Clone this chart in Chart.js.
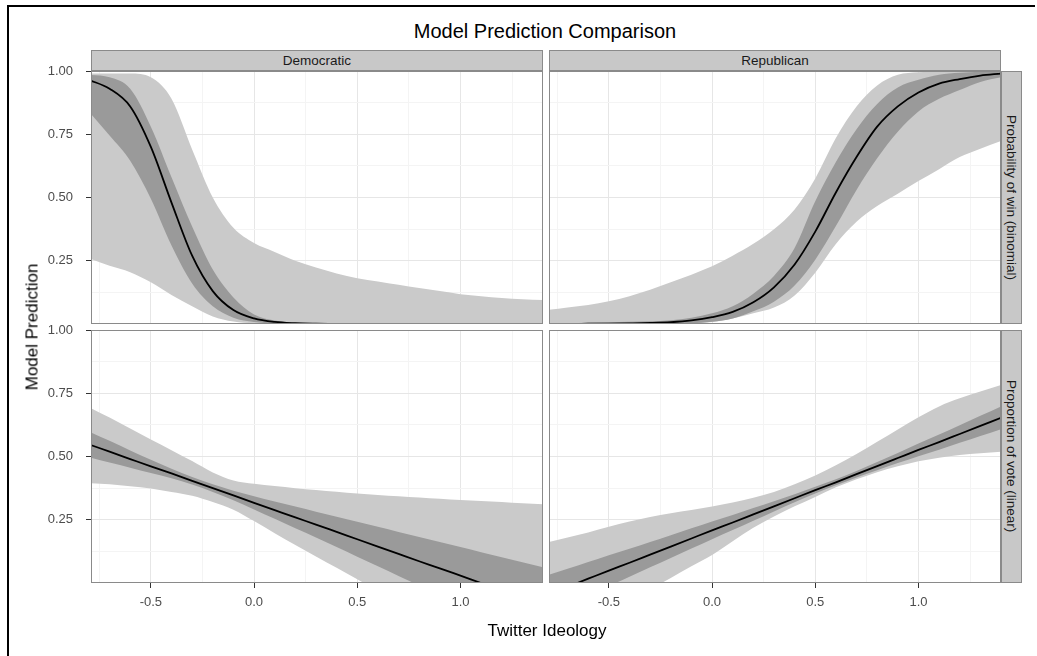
<!DOCTYPE html>
<html>
<head>
<meta charset="utf-8">
<script src="https://cdn.jsdelivr.net/npm/chart.js@4.4.0/dist/chart.umd.min.js"></script>
<style>
  body { margin: 0; background: #fff; }
  #wrap { position: relative; width: 1037px; height: 656px; overflow: hidden;
          font-family: "Liberation Sans", Arial, sans-serif; }
  .frame { position: absolute; left: 7px; top: 5px; width: 1026px; height: 700px;
           border-top: 2px solid #000; border-left: 2px solid #000; }
  canvas { position: absolute; }
  .strip { position: absolute; box-sizing: border-box; background: #c8c8c8;
           border: 1px solid #8a8a8a; color: #1a1a1a; font-size: 13.5px;
           display: flex; align-items: center; justify-content: center; }
  .strip.side { writing-mode: vertical-rl; }
  .title { position: absolute; left: 295px; width: 500px; top: 21px; text-align: center;
           font-size: 20px; line-height: 20px; color: #000; }
  .xlab { position: absolute; left: 397px; width: 300px; top: 622px; text-align: center;
          font-size: 17px; line-height: 17px; color: #000; }
  .ylab { position: absolute; left: 31.5px; top: 327px; font-size: 17px; line-height: 17px;
          color: #000; white-space: nowrap; transform: translate(-50%, -50%) rotate(-90deg); }
</style>
</head>
<body>
<div id="wrap">
  <div class="frame"></div>
  <div class="title">Model Prediction Comparison</div>

  <canvas id="tl" width="543" height="263" style="left:0;top:61px"></canvas>
  <canvas id="tr" width="452" height="263" style="left:549px;top:61px"></canvas>
  <canvas id="bl" width="543" height="303" style="left:0;top:320px"></canvas>
  <canvas id="br" width="452" height="303" style="left:549px;top:320px"></canvas>

  <div class="strip" style="left:91px;top:50px;width:452px;height:21px">Democratic</div>
  <div class="strip" style="left:549px;top:50px;width:452px;height:21px">Republican</div>
  <div class="strip side" style="left:1001px;top:71px;width:21px;height:253px">Probability of win (binomial)</div>
  <div class="strip side" style="left:1001px;top:330px;width:21px;height:253px">Proportion of vote (linear)</div>

  <div class="ylab">Model Prediction</div>
  <div class="xlab">Twitter Ideology</div>
</div>

<script>
// eje x compartido (ideología en Twitter)
const xVals = [-0.8, -0.7, -0.6, -0.5, -0.4, -0.3, -0.2, -0.1, 0.0, 0.1, 0.2, 0.3,
               0.4, 0.5, 0.6, 0.7, 0.8, 0.9, 1.0, 1.1, 1.2, 1.3, 1.4];
const xTicks = [-0.75, -0.5, -0.25, 0, 0.25, 0.5, 0.75, 1, 1.25];
const xMajor = [-0.5, 0, 0.5, 1];
const yTicks = [0.125, 0.25, 0.375, 0.5, 0.625, 0.75, 0.875, 1];
const yMajor = [0.25, 0.5, 0.75, 1];

// Demócratas, probabilidad de ganar (binomial)
const demWinFit    = [0.965, 0.93, 0.86, 0.70, 0.48, 0.27, 0.13, 0.055, 0.022, 0.008, 0.003, 0.001, 0, 0, 0, 0, 0, 0, 0, 0, 0, 0, 0];
const demWinDarkHi = [0.985, 0.975, 0.93, 0.78, 0.58, 0.385, 0.215, 0.105, 0.038, 0.014, 0.005, 0.002, 0.001, 0, 0, 0, 0, 0, 0, 0, 0, 0, 0];
const demWinDarkLo = [0.84, 0.745, 0.645, 0.495, 0.31, 0.16, 0.07, 0.025, 0.008, 0.002, 0.001, 0, 0, 0, 0, 0, 0, 0, 0, 0, 0, 0, 0];
const demWinLightHi = [0.99, 0.99, 0.99, 0.975, 0.89, 0.69, 0.50, 0.38, 0.32, 0.285, 0.25, 0.223, 0.20, 0.181, 0.168, 0.155, 0.142, 0.13, 0.118, 0.11, 0.103, 0.098, 0.095];
const demWinLightLo = [0.26, 0.23, 0.205, 0.165, 0.115, 0.07, 0.03, 0.01, 0.003, 0.001, 0, 0, 0, 0, 0, 0, 0, 0, 0, 0, 0, 0, 0];

// Republicanos, probabilidad de ganar (binomial)
const repWinFit    = [0.0003, 0.0005, 0.001, 0.0015, 0.0025, 0.004, 0.007, 0.014, 0.027, 0.048, 0.086, 0.145, 0.235, 0.365, 0.52, 0.66, 0.78, 0.86, 0.915, 0.95, 0.968, 0.982, 0.99];
const repWinDarkHi = [0.003, 0.004, 0.005, 0.007, 0.009, 0.011, 0.015, 0.025, 0.042, 0.07, 0.12, 0.19, 0.30, 0.485, 0.64, 0.77, 0.87, 0.935, 0.965, 0.985, 0.993, 0.997, 0.998];
const repWinDarkLo = [0, 0, 0, 0, 0, 0, 0.001, 0.003, 0.009, 0.022, 0.05, 0.088, 0.152, 0.254, 0.387, 0.53, 0.655, 0.76, 0.84, 0.89, 0.925, 0.957, 0.975];
const repWinLightHi = [0.055, 0.065, 0.075, 0.09, 0.11, 0.135, 0.165, 0.195, 0.228, 0.27, 0.317, 0.375, 0.453, 0.575, 0.735, 0.86, 0.943, 0.985, 0.995, 0.997, 0.998, 0.998, 0.998];
const repWinLightLo = [0, 0, 0, 0, 0, 0.001, 0.002, 0.004, 0.008, 0.022, 0.042, 0.065, 0.113, 0.203, 0.316, 0.404, 0.466, 0.515, 0.565, 0.612, 0.66, 0.693, 0.723];

// Demócratas, proporción de voto (lineal)
const demVoteFit    = [0.548, 0.519, 0.49, 0.461, 0.433, 0.404, 0.375, 0.346, 0.317, 0.288, 0.259, 0.231, 0.202, 0.173, 0.144, 0.115, 0.086, 0.058, 0.029, 0.0, -0.029, -0.058, -0.087];
const demVoteDarkHi = [0.599, 0.562, 0.524, 0.487, 0.452, 0.419, 0.39, 0.365, 0.343, 0.322, 0.302, 0.282, 0.262, 0.242, 0.222, 0.202, 0.182, 0.162, 0.142, 0.122, 0.102, 0.082, 0.062];
const demVoteDarkLo = [0.497, 0.476, 0.456, 0.435, 0.414, 0.389, 0.36, 0.327, 0.291, 0.254, 0.216, 0.18, 0.142, 0.104, 0.066, 0.028, -0.01, -0.046, -0.084, -0.122, -0.16, -0.198, -0.236];
const demVoteLightHi = [0.695, 0.654, 0.611, 0.567, 0.525, 0.482, 0.437, 0.405, 0.392, 0.383, 0.375, 0.368, 0.361, 0.354, 0.348, 0.343, 0.338, 0.333, 0.328, 0.324, 0.32, 0.315, 0.311];
const demVoteLightLo = [0.395, 0.39, 0.382, 0.374, 0.36, 0.345, 0.32, 0.29, 0.245, 0.197, 0.15, 0.105, 0.06, 0.015, -0.03, -0.075, -0.12, -0.165, -0.21, -0.255, -0.3, -0.345, -0.39];

// Republicanos, proporción de voto (lineal)
const repVoteFit    = [-0.047, -0.015, 0.017, 0.049, 0.08, 0.112, 0.144, 0.176, 0.208, 0.239, 0.271, 0.303, 0.335, 0.367, 0.398, 0.43, 0.462, 0.494, 0.526, 0.557, 0.589, 0.621, 0.653];
const repVoteDarkHi = [0.030, 0.056, 0.083, 0.110, 0.135, 0.162, 0.189, 0.216, 0.243, 0.269, 0.296, 0.323, 0.351, 0.38, 0.41, 0.443, 0.478, 0.514, 0.551, 0.587, 0.624, 0.661, 0.698];
const repVoteDarkLo = [-0.124, -0.086, -0.049, -0.012, 0.025, 0.062, 0.099, 0.136, 0.173, 0.209, 0.246, 0.283, 0.319, 0.354, 0.386, 0.417, 0.446, 0.474, 0.501, 0.527, 0.554, 0.581, 0.608];
const repVoteLightHi = [0.16, 0.18, 0.20, 0.222, 0.243, 0.261, 0.276, 0.289, 0.302, 0.318, 0.337, 0.36, 0.39, 0.425, 0.465, 0.51, 0.558, 0.607, 0.655, 0.698, 0.73, 0.757, 0.783];
const repVoteLightLo = [-0.245, -0.2, -0.16, -0.115, -0.07, -0.025, 0.02, 0.066, 0.111, 0.165, 0.218, 0.263, 0.303, 0.34, 0.378, 0.41, 0.438, 0.461, 0.481, 0.495, 0.506, 0.513, 0.519];

const LIGHT = "#cacaca";
const DARK = "#9a9a9a";
const GRID_MAJOR = "#e6e6e6";
const GRID_MINOR = "#f4f4f4";

Chart.defaults.font.family = '"Liberation Sans", Arial, sans-serif';

// marco gris alrededor de cada panel
const panelBorder = {
  id: "panelBorder",
  afterDraw(chart) {
    const a = chart.chartArea, c = chart.ctx;
    c.save();
    c.strokeStyle = "#8a8a8a";
    c.lineWidth = 1;
    c.strokeRect(Math.round(a.left) + 0.5, Math.round(a.top) + 0.5,
                 Math.round(a.right - a.left) - 1, Math.round(a.bottom - a.top) - 1);
    c.restore();
  }
};

function pts(arr) {
  return arr.map((y, i) => ({ x: xVals[i], y: y }));
}

function zeroPad(s) {
  s.paddingLeft = 0; s.paddingRight = 0; s.paddingTop = 0; s.paddingBottom = 0;
}

function renderPanel(id, fit, darkHi, darkLo, lightHi, lightLo, showX, showY) {
  const band = (arr, color, fill, order) => ({
    data: pts(arr), fill: fill, backgroundColor: color,
    borderColor: "transparent", borderWidth: 0, order: order
  });
  new Chart(document.getElementById(id), {
    type: "line",
    data: {
      datasets: [
        band(lightHi, LIGHT, "+1", 3),
        band(lightLo, LIGHT, false, 3),
        band(darkHi, DARK, "+1", 2),
        band(darkLo, DARK, false, 2),
        { data: pts(fit), fill: false, borderColor: "#000", borderWidth: 1.8, order: 1 }
      ]
    },
    options: {
      responsive: false,
      animation: false,
      events: [],
      layout: { padding: { top: 10 } },
      plugins: { legend: { display: false }, tooltip: { enabled: false } },
      elements: {
        point: { radius: 0 },
        line: { cubicInterpolationMode: "monotone" }
      },
      scales: {
        x: {
          type: "linear", min: -0.79, max: 1.4,
          afterBuildTicks: s => { s.ticks = xTicks.map(v => ({ value: v })); },
          afterFit: s => { s.height = showX ? 40 : 0; zeroPad(s); },
          border: { display: false },
          grid: {
            color: ctx => xMajor.includes(ctx.tick.value) ? GRID_MAJOR : GRID_MINOR,
            drawTicks: showX, tickLength: 5,
            tickColor: ctx => xMajor.includes(ctx.tick.value) ? "#333" : "transparent"
          },
          ticks: {
            display: showX, autoSkip: false, maxRotation: 0, padding: 7,
            color: "#4d4d4d", font: { size: 13 },
            callback: v => xMajor.includes(v) ? v.toFixed(1) : ""
          }
        },
        y: {
          type: "linear", min: 0, max: 1,
          afterBuildTicks: s => { s.ticks = yTicks.map(v => ({ value: v })); },
          afterFit: s => { s.width = showY ? 91 : 0; zeroPad(s); },
          border: { display: false },
          grid: {
            color: ctx => yMajor.includes(ctx.tick.value) ? GRID_MAJOR : GRID_MINOR,
            drawTicks: showY, tickLength: 5,
            tickColor: ctx => yMajor.includes(ctx.tick.value) ? "#333" : "transparent"
          },
          ticks: {
            display: showY, autoSkip: false, padding: 13,
            color: "#4d4d4d", font: { size: 13 },
            callback: v => yMajor.includes(v) ? v.toFixed(2) : ""
          }
        }
      }
    },
    plugins: [panelBorder]
  });
}

renderPanel("tl", demWinFit, demWinDarkHi, demWinDarkLo, demWinLightHi, demWinLightLo, false, true);
renderPanel("tr", repWinFit, repWinDarkHi, repWinDarkLo, repWinLightHi, repWinLightLo, false, false);
renderPanel("bl", demVoteFit, demVoteDarkHi, demVoteDarkLo, demVoteLightHi, demVoteLightLo, true, true);
renderPanel("br", repVoteFit, repVoteDarkHi, repVoteDarkLo, repVoteLightHi, repVoteLightLo, true, false);
</script>
</body>
</html>
